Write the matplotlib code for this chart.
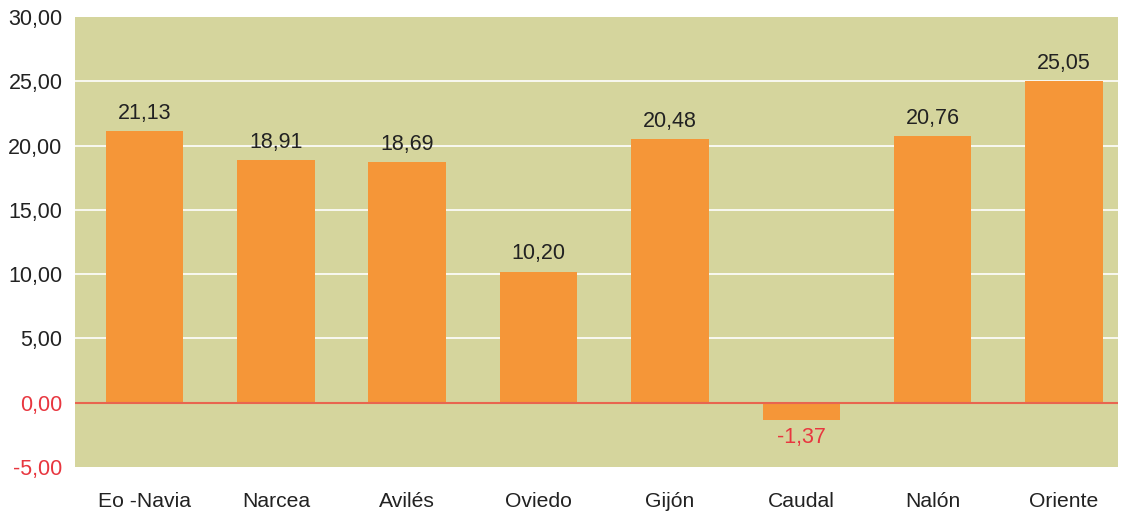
import matplotlib
matplotlib.use("Agg")
import matplotlib.pyplot as plt

categories = ["Eo -Navia", "Narcea", "Avilés", "Oviedo", "Gijón", "Caudal", "Nalón", "Oriente"]
values = [21.13, 18.91, 18.69, 10.20, 20.48, -1.37, 20.76, 25.05]
yticks = [-5, 0, 5, 10, 15, 20, 25, 30]

plt.rcParams['font.family'] = ['Liberation Sans', 'DejaVu Sans']

fig = plt.figure(figsize=(11.21, 5.12), dpi=100)
ax = fig.add_axes([75/1121, 1-467/512, (1118-75)/1121, 450/512])
bg = "#d5d59d"
bar_color = "#f59638"
red = "#e8363f"
ax.set_facecolor(bg)

x = list(range(len(categories)))
ax.bar(x, values, width=0.59, color=bar_color, zorder=2)
for yv in [5, 10, 15, 20, 25]:
    ax.axhline(yv, color="white", lw=1.2, zorder=1)
ax.axhline(0, color="#e8654f", lw=1.5, zorder=3)

def fmt(v):
    return f"{v:.2f}".replace(".", ",")

for xi, v in zip(x, values):
    if v >= 0:
        ax.text(xi, v + 0.55, fmt(v), ha="center", va="bottom", fontsize=15.5, color="#222222")
    else:
        ax.text(xi, v - 0.55, fmt(v), ha="center", va="top", fontsize=15.5, color=red)

ax.set_xlim(-0.529, 7.411)
ax.set_ylim(-5, 30)
ax.set_yticks(yticks)
ax.set_yticklabels([fmt(v) for v in yticks], fontsize=15.5)
for lbl, v in zip(ax.get_yticklabels(), yticks):
    lbl.set_color(red if v <= 0 else "#222222")
ax.set_xticks(x)
ax.set_xticklabels(categories, fontsize=15.2, color="#222222")
ax.tick_params(length=0, axis="both")
ax.tick_params(axis="x", pad=18)
ax.tick_params(axis="y", pad=9)
for s in ax.spines.values():
    s.set_visible(False)

fig.savefig("out.png", dpi=100)
